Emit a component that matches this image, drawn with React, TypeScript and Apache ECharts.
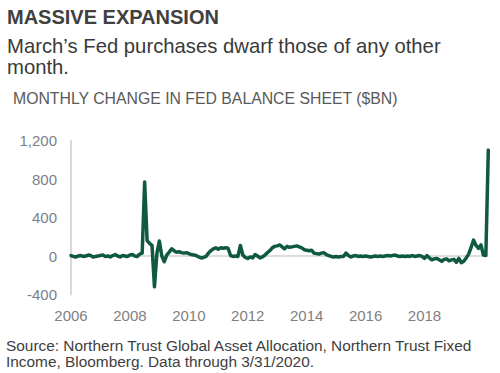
import React, { useEffect, useRef } from "react";
import * as echarts from "echarts";

const title = "MASSIVE EXPANSION";
const subtitleLines = ["March’s Fed purchases dwarf those of any other", "month."];
const axisTitle = "MONTHLY CHANGE IN FED BALANCE SHEET ($BN)";
const sourceLines = [
  "Source: Northern Trust Global Asset Allocation, Northern Trust Fixed",
  "Income, Bloomberg. Data through 3/31/2020.",
];

// Monthly categories Jan 2006 .. Mar 2020
const startYear = 2006;
const monthCount = 171;
const months: string[] = [];
for (let i = 0; i < monthCount; i++) {
  const y = startYear + Math.floor(i / 12);
  const m = (i % 12) + 1;
  months.push(`${y}-${m < 10 ? "0" + m : m}`);
}

// Monthly change in Fed balance sheet ($BN)
const change2006to2008 = [
  5, -5, -10, 0, 5, -5, 0, 10, 5, -10, -5, 0, 5, 10, -5, 0, -10, 5, 15, 0, -10, 5, 0, -5,
  10, 15, 0, -5, 20,
];
const change2008to2012 = [
  30, 770, 160, 130, 110, -320, 30, 155, 0, -60, 10, 40, 75, 55, 40, 45, 35, 30, 35, 25,
  15, 10, 5, -10, -20, -15, -5, 30, 55, 75, 85, 70, 85, 80, 85, 80, 5, -5, 0, -5,
  110, 10, -15, -25, -10, -20, 15, 0, -20, -10,
];
const change2012to2016 = [
  10, 35, 55, 85, 100, 105, 115, 95, 75, 100, 90, 95, 100, 105, 95, 85, 65, 60, 55, 60,
  30, 25, 20, 30, 35, 15, 5, -5, -10, -5, -10, -5, -5, 30, 5, -10, 0, 5, -5, 0,
  -5, 0, -5, -10,
];
const change2016to2020 = [
  -5, 0, -5, 0, -5, 0, 5, 0, 5, 10, 0, -5, 0, -5, 0, -5, 5, -5, 0, 5,
  -5, -25, 5, -20, -40, -30, -25, -40, -55, -35, -30, -50, -40, -35, -65, -25, -70, -55, -20, 20,
  90, 165, 110, 80, 115, 10, 5, 1100,
];
const monthlyChange = [
  ...change2006to2008,
  ...change2008to2012,
  ...change2012to2016,
  ...change2016to2020,
];

const yTicks = [-400, 0, 400, 800, 1200];

const FONT = "'Liberation Sans', Arial, Helvetica, sans-serif";

export default function App() {
  const ref = useRef<HTMLDivElement>(null);
  useEffect(() => {
    if (!ref.current) return;
    const chart = echarts.init(ref.current, undefined, { renderer: "svg" });
    chart.setOption({
      animation: false,
      backgroundColor: "#ffffff",
      textStyle: { fontFamily: FONT },
      grid: { left: 71, right: 11.7, top: 140.5, bottom: 78.5, containLabel: false },
      xAxis: {
        type: "category",
        data: months.slice(0, monthlyChange.length),
        boundaryGap: false,
        axisLine: { show: false },
        axisTick: { show: false },
        splitLine: { show: false },
        axisLabel: {
          interval: (index: number) => index % 24 === 0 && index < 168,
          formatter: (v: string) => v.slice(0, 4),
          color: "#7f7f7f",
          fontSize: 15,
          fontFamily: FONT,
          margin: 13,
        },
      },
      yAxis: {
        type: "value",
        min: yTicks[0],
        max: yTicks[yTicks.length - 1],
        interval: 400,
        axisLine: { show: true, lineStyle: { color: "#d9d9d9", width: 2 } },
        axisTick: { show: false },
        axisLabel: {
          color: "#7a7f8c",
          fontSize: 15,
          fontFamily: FONT,
          margin: 14,
          formatter: (v: number) => v.toLocaleString("en-US"),
        },
        splitLine: {
          show: true,
          lineStyle: {
            color: yTicks.map((t) => (t === 0 ? "#d0d0d0" : "rgba(0,0,0,0)")),
            width: 1.5,
          },
        },
      },
      series: [
        {
          type: "line",
          data: monthlyChange,
          showSymbol: false,
          symbol: "none",
          lineStyle: { color: "#0f5a3e", width: 3.5, join: "round", cap: "round" },
          z: 5,
        },
      ],
      graphic: [
        {
          type: "text",
          x: 7,
          y: 16.5,
          style: { text: title, fontSize: 20, fontWeight: "bold", fill: "#404040", fontFamily: FONT, verticalAlign: "middle", lineHeight: 20 },
        },
        {
          type: "text",
          x: 7,
          y: 46.2,
          style: { text: subtitleLines[0], fontSize: 20.3, fill: "#3a3a3a", fontFamily: FONT, verticalAlign: "middle", lineHeight: 20 },
        },
        {
          type: "text",
          x: 7,
          y: 67,
          style: { text: subtitleLines[1], fontSize: 20.3, fill: "#3a3a3a", fontFamily: FONT, verticalAlign: "middle", lineHeight: 20 },
        },
        {
          type: "text",
          x: 13,
          y: 98.5,
          style: { text: axisTitle, fontSize: 15.8, fill: "#595959", fontFamily: FONT, verticalAlign: "middle" },
        },
        {
          type: "text",
          x: 6,
          y: 345,
          style: { text: sourceLines[0], fontSize: 15.4, fill: "#404040", fontFamily: FONT, verticalAlign: "middle", lineHeight: 16 },
        },
        {
          type: "text",
          x: 6,
          y: 361.7,
          style: { text: sourceLines[1], fontSize: 15.4, fill: "#404040", fontFamily: FONT, verticalAlign: "middle", lineHeight: 16 },
        },
      ],
    });
    return () => chart.dispose();
  }, []);
  return (
    <div
      ref={ref}
      style={{ position: "fixed", left: 0, top: 0, width: 500, height: 373, background: "#fff" }}
    />
  );
}
